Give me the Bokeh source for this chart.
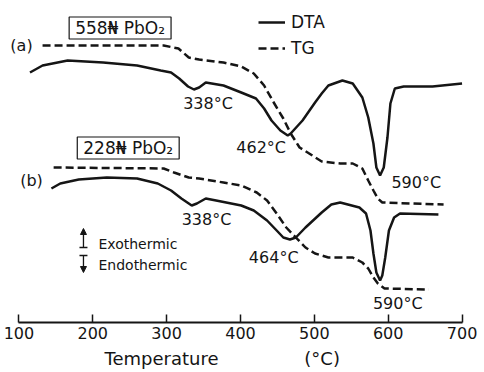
from bokeh.plotting import figure
from bokeh.models import Range1d, FixedTicker, Label, Arrow, NormalHead, Legend, LegendItem, Title
from bokeh.core.properties import value
from bokeh.embed import file_html
from bokeh.resources import INLINE

# ---------------- data (temperature in degC, signal in arbitrary units) ----------------
temp_dta_a = [115, 132, 166, 214, 260, 292, 306, 317, 329, 337, 344, 353, 377, 401, 421, 432, 442,
              454, 464, 468, 484, 501, 510, 519, 538, 552, 565, 573, 580, 584, 589, 594, 599,
              603, 609, 621, 660, 700]
sig_dta_a = [250, 257, 262, 260, 257, 252, 250, 244, 236, 233, 235, 240, 237, 230, 224, 214, 202,
             192, 187, 189, 202, 220, 229, 237, 242, 239, 225, 205, 179, 155, 147, 155, 185,
             219, 234, 236, 236, 239]

temp_tg_a = [132, 296, 316, 330, 344, 377, 401, 418, 432, 445, 458, 468, 480, 493, 510, 535, 552,
             565, 573, 580, 586, 592, 675]
sig_tg_a = [277, 277, 274, 265, 263, 260, 256, 249, 237, 220, 204, 189, 175, 169, 161, 159, 159,
            154, 142, 132, 124, 120, 118]

temp_dta_b = [144, 156, 181, 219, 260, 288, 306, 320, 334, 341, 353, 367, 401, 418, 436, 449, 458,
              467, 475, 488, 510, 523, 535, 561, 570, 576, 580, 584, 589, 592, 596, 601, 608,
              616, 668]
sig_dta_b = [134, 139, 143, 145, 144, 139, 132, 124, 117, 119, 124, 122, 117, 112, 102, 92, 85,
             83, 85, 95, 110, 118, 120, 115, 109, 92, 69, 50, 42, 47, 65, 92, 105,
             109, 108]

temp_tg_b = [147, 296, 310, 330, 344, 377, 401, 422, 436, 449, 462, 475, 488, 501, 519, 552, 565,
             573, 580, 586, 595, 655]
sig_tg_b = [155, 154, 150, 145, 144, 140, 137, 130, 122, 109, 95, 85, 75, 69, 65, 65, 60,
            54, 45, 39, 34, 33]

x_ticks = [100, 200, 300, 400, 500, 600, 700]

peak_labels = ["338°C", "462°C", "590°C", "338°C", "464°C", "590°C"]
peak_x = [356, 428, 638, 354, 445, 613]
peak_y = [219, 175, 140, 103, 65, 19]

# ---------------- figure ----------------
INK = "#151515"
FONT = "DejaVu Sans"

p = figure(width=484, height=372, output_backend="svg", toolbar_location=None,
           x_range=Range1d(75.06, 730.4), y_range=Range1d(0, 322),
           y_axis_location=None, min_border_left=0, min_border_right=0,
           min_border_top=0, min_border_bottom=50)
p.xgrid.visible = False
p.ygrid.visible = False
p.outline_line_color = None
p.background_fill_color = "white"
p.border_fill_color = "white"

xa = p.xaxis[0]
xa.ticker = FixedTicker(ticks=x_ticks)
xa.bounds = (100, 700)
xa.axis_line_width = 2
xa.axis_line_color = INK
xa.major_tick_in = 8
xa.major_tick_out = 0
xa.major_tick_line_width = 1.5
xa.major_tick_line_color = INK
xa.minor_tick_line_color = None
xa.major_label_text_font = FONT
xa.major_label_text_font_size = "16px"
xa.major_label_text_color = INK
xa.major_label_standoff = 4

title = Title(text="Temperature" + "\u00a0" * 15 + "(°C)", align="left", offset=104,
              text_font=FONT, text_font_size="18px", text_font_style="normal",
              text_color=INK, standoff=8)
p.add_layout(title, "below")

r_dta_a = p.line(temp_dta_a, sig_dta_a, line_width=2.5, line_color=INK)
r_tg_a = p.line(temp_tg_a, sig_tg_a, line_width=2.5, line_color=INK, line_dash="8 4")
p.line(temp_dta_b, sig_dta_b, line_width=2.5, line_color=INK)
p.line(temp_tg_b, sig_tg_b, line_width=2.5, line_color=INK, line_dash="8 4")

p.text(x=peak_x, y=peak_y, text=peak_labels, text_font=value(FONT), text_font_size="16px",
       text_color=INK, text_align="center", text_baseline="middle")

# series tags
p.text(x=[103.5, 117], y=[277, 142], text=["(a)", "(b)"], text_font=value(FONT),
       text_font_size="16px", text_color=INK, text_align="center", text_baseline="middle")

for tx, ty, tt in [(237, 294.5, "558\u20a6 PbO\u2082"), (248, 174.5, "228\u20a6 PbO\u2082")]:
    p.add_layout(Label(x=tx, y=ty, text=tt, text_font=FONT, text_font_size="17px",
                       text_color=INK, text_align="center", text_baseline="middle",
                       border_line_color=INK, border_line_width=1.2,
                       background_fill_color="white",
                       padding=dict(top=1, bottom=1, left=6, right=6)))

# exo / endo indicator
p.text(x=[207.7, 207.7], y=[79, 58], text=["Exothermic", "Endothermic"], text_font=value(FONT),
       text_font_size="14px", text_color=INK, text_align="left", text_baseline="middle")
p.add_layout(Arrow(x_start=187.4, y_start=75, x_end=187.4, y_end=94, line_width=1.3,
                   line_color=INK, end=NormalHead(size=6, fill_color=INK, line_color=INK)))
p.add_layout(Arrow(x_start=187.4, y_start=67, x_end=187.4, y_end=50, line_width=1.3,
                   line_color=INK, end=NormalHead(size=6, fill_color=INK, line_color=INK)))
p.segment(x0=[182, 182], y0=[75, 67], x1=[192.8, 192.8], y1=[75, 67], line_width=1.3,
          line_color=INK)

legend = Legend(items=[LegendItem(label="DTA", renderers=[r_dta_a]),
                       LegendItem(label="TG", renderers=[r_tg_a])],
                location=(258, 264), orientation="vertical",
                label_text_font=FONT, label_text_font_size="17px", label_text_color=INK,
                glyph_width=27, glyph_height=18, label_height=18, spacing=6, label_standoff=6,
                padding=0, margin=0, border_line_color=None, background_fill_alpha=0)
p.add_layout(legend)

open("out.html", "w").write(file_html(p, INLINE))
